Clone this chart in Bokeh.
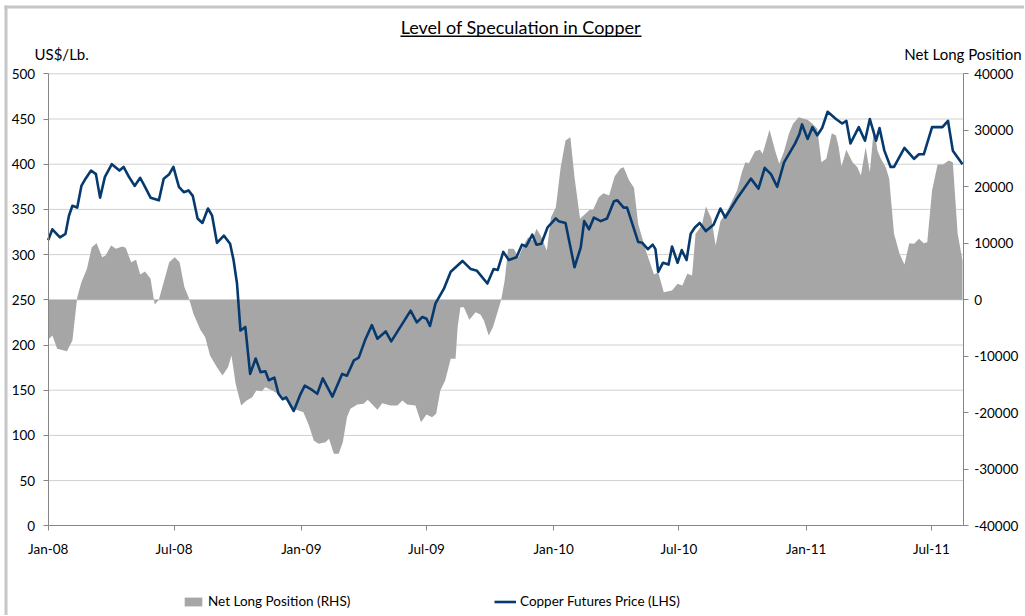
import pandas as pd
from bokeh.plotting import figure
from bokeh.models import (Range1d, LinearAxis, FixedTicker, DatetimeTickFormatter,
                          Legend, LegendItem, NumeralTickFormatter, Label, Arrow)
from bokeh.embed import file_html
from bokeh.resources import INLINE

# ---------------- data ----------------
price_dates = [
    "2008-01-01", "2008-01-07", "2008-01-18", "2008-01-26", "2008-01-31", "2008-02-05", "2008-02-12",
    "2008-02-18", "2008-02-24", "2008-03-03", "2008-03-10", "2008-03-16", "2008-03-23", "2008-04-02",
    "2008-04-13", "2008-04-19", "2008-04-26", "2008-05-05", "2008-05-13", "2008-05-20", "2008-05-28",
    "2008-06-09", "2008-06-16", "2008-06-24", "2008-06-30", "2008-07-08", "2008-07-15", "2008-07-22",
    "2008-07-28", "2008-08-04", "2008-08-11", "2008-08-19", "2008-08-25", "2008-09-01", "2008-09-11",
    "2008-09-20", "2008-09-25", "2008-09-30", "2008-10-05", "2008-10-12", "2008-10-19", "2008-10-27",
    "2008-11-03", "2008-11-10", "2008-11-15", "2008-11-23", "2008-11-29", "2008-12-05", "2008-12-10",
    "2008-12-21", "2008-12-31", "2009-01-06", "2009-01-17", "2009-01-24", "2009-02-01", "2009-02-15",
    "2009-03-01", "2009-03-08", "2009-03-18", "2009-03-25", "2009-04-04", "2009-04-13", "2009-04-21",
    "2009-05-03", "2009-05-11", "2009-06-08", "2009-06-17", "2009-06-25", "2009-07-01", "2009-07-06",
    "2009-07-14", "2009-07-26", "2009-08-05", "2009-08-22", "2009-09-03", "2009-09-12", "2009-09-27",
    "2009-10-06", "2009-10-12", "2009-10-20", "2009-10-28", "2009-11-08", "2009-11-16", "2009-11-22",
    "2009-12-01", "2009-12-07", "2009-12-14", "2009-12-23", "2010-01-04", "2010-01-08", "2010-01-18",
    "2010-01-31", "2010-02-09", "2010-02-14", "2010-02-21", "2010-02-28", "2010-03-10", "2010-03-19",
    "2010-03-29", "2010-04-03", "2010-04-12", "2010-04-17", "2010-05-03", "2010-05-09", "2010-05-17",
    "2010-05-24", "2010-05-28", "2010-06-01", "2010-06-08", "2010-06-16", "2010-06-21", "2010-06-29",
    "2010-07-05", "2010-07-12", "2010-07-18", "2010-07-24", "2010-07-31", "2010-08-09", "2010-08-20",
    "2010-08-30", "2010-09-06", "2010-09-23", "2010-10-13", "2010-10-24", "2010-11-02", "2010-11-11",
    "2010-11-20", "2010-11-30", "2010-12-16", "2010-12-22", "2010-12-26", "2011-01-03", "2011-01-10",
    "2011-01-17", "2011-01-24", "2011-02-01", "2011-02-13", "2011-02-22", "2011-02-28", "2011-03-06",
    "2011-03-18", "2011-03-27", "2011-04-03", "2011-04-12", "2011-04-17", "2011-04-24", "2011-05-03",
    "2011-05-08", "2011-05-23", "2011-06-06", "2011-06-13", "2011-06-20", "2011-07-02", "2011-07-17",
    "2011-07-25", "2011-08-01", "2011-08-15",
]
price_values = [
    316, 328, 319, 323, 343, 354, 352,
    376, 384, 393, 389, 363, 386, 400,
    393, 397, 387, 376, 385, 375, 363,
    360, 384, 389, 397, 375, 369, 371,
    365, 340, 335, 351, 343, 313, 321,
    312, 294, 268, 216, 220, 168, 185,
    170, 171, 161, 164, 146, 140, 142,
    127, 146, 155, 150, 146, 163, 143,
    168, 166, 183, 186, 207, 222, 207,
    215, 204, 238, 225, 231, 229, 221,
    246, 262, 281, 293, 284, 282, 268,
    284, 283, 303, 294, 297, 311, 309,
    322, 311, 312, 330, 340, 337, 335,
    286, 308, 337, 328, 341, 337, 340,
    359, 360, 352, 352, 314, 313, 306,
    311, 306, 281, 291, 289, 309, 291,
    305, 294, 323, 330, 335, 326, 333,
    351, 341, 362, 384, 373, 396, 389,
    375, 402, 423, 433, 444, 428, 441,
    432, 440, 458, 450, 445, 448, 423,
    441, 426, 450, 426, 440, 415, 397,
    397, 418, 406, 411, 411, 441, 441,
    448, 415, 400,
]

net_dates = [
    "2008-01-01", "2008-01-07", "2008-01-14", "2008-01-28", "2008-02-05", "2008-02-12", "2008-02-18",
    "2008-02-26", "2008-03-04", "2008-03-11", "2008-03-19", "2008-03-24", "2008-04-01", "2008-04-08",
    "2008-04-17", "2008-04-22", "2008-04-30", "2008-05-07", "2008-05-13", "2008-05-20", "2008-05-28",
    "2008-06-03", "2008-06-09", "2008-06-16", "2008-06-24", "2008-07-02", "2008-07-09", "2008-07-16",
    "2008-07-22", "2008-07-29", "2008-08-08", "2008-08-15", "2008-08-22", "2008-09-01", "2008-09-09",
    "2008-09-17", "2008-09-22", "2008-09-28", "2008-10-06", "2008-10-14", "2008-10-22", "2008-10-28",
    "2008-11-05", "2008-11-10", "2008-11-20", "2008-11-28", "2008-12-10", "2008-12-21", "2009-01-04",
    "2009-01-12", "2009-01-19", "2009-01-26", "2009-02-05", "2009-02-10", "2009-02-17", "2009-02-24",
    "2009-03-02", "2009-03-08", "2009-03-13", "2009-03-23", "2009-04-01", "2009-04-07", "2009-04-21",
    "2009-04-28", "2009-05-10", "2009-05-20", "2009-05-27", "2009-06-03", "2009-06-15", "2009-06-23",
    "2009-07-01", "2009-07-09", "2009-07-15", "2009-07-21", "2009-07-28", "2009-08-05", "2009-08-12",
    "2009-08-15", "2009-08-19", "2009-08-24", "2009-09-01", "2009-09-10", "2009-09-17", "2009-09-22",
    "2009-09-29", "2009-10-05", "2009-10-11", "2009-10-17", "2009-10-22", "2009-10-27", "2009-11-04",
    "2009-11-11", "2009-11-19", "2009-11-25", "2009-12-01", "2009-12-07", "2009-12-13", "2009-12-22",
    "2009-12-28", "2010-01-04", "2010-01-11", "2010-01-18", "2010-01-25", "2010-01-31", "2010-02-08",
    "2010-02-13", "2010-02-22", "2010-02-27", "2010-03-07", "2010-03-14", "2010-03-22", "2010-03-30",
    "2010-04-07", "2010-04-12", "2010-04-20", "2010-04-27", "2010-05-03", "2010-05-14", "2010-05-26",
    "2010-06-01", "2010-06-09", "2010-06-21", "2010-06-29", "2010-07-06", "2010-07-13", "2010-07-20",
    "2010-07-25", "2010-08-03", "2010-08-09", "2010-08-17", "2010-08-23", "2010-08-30", "2010-09-09",
    "2010-09-23", "2010-09-30", "2010-10-05", "2010-10-10", "2010-10-19", "2010-10-26", "2010-10-30",
    "2010-11-09", "2010-11-17", "2010-11-23", "2010-11-30", "2010-12-07", "2010-12-13", "2010-12-21",
    "2011-01-03", "2011-01-10", "2011-01-17", "2011-01-23", "2011-01-30", "2011-02-07", "2011-02-13",
    "2011-02-17", "2011-02-21", "2011-02-28", "2011-03-09", "2011-03-16", "2011-03-21", "2011-03-28",
    "2011-04-03", "2011-04-09", "2011-04-14", "2011-04-19", "2011-04-26", "2011-05-01", "2011-05-08",
    "2011-05-16", "2011-05-23", "2011-05-30", "2011-06-06", "2011-06-13", "2011-06-20", "2011-06-25",
    "2011-07-02", "2011-07-10", "2011-07-18", "2011-07-26", "2011-08-01", "2011-08-08", "2011-08-15",
]
net_values = [
    -7080, -6320, -8670, -9100, -7200, 460, 3120,
    5490, 9310, 10020, 7540, 7840, 9610, 9030,
    9430, 9200, 6660, 7080, 4480, 5010, 3720,
    -830, 0, 3120, 6660, 7540, 6660, 2230,
    460, -2480, -5310, -6620, -9860, -11930, -13400,
    -11930, -9860, -14870, -18710, -17820, -17240, -16050,
    -16180, -15470, -16050, -16640, -17800, -19290, -19890,
    -22250, -24900, -25490, -25200, -24600, -27260, -27260,
    -25200, -20780, -19290, -18530, -18410, -17700, -19470,
    -18300, -18710, -18710, -17820, -18530, -18710, -21660,
    -20300, -20780, -20180, -16050, -14280, -10440, -10440,
    -4850, -1310, -1310, -3540, -2190, -2600, -3660,
    -6320, -4850, -2480, 0, 3420, 9030, 9030,
    7540, 9790, 11080, 10500, 12570, 11380, 8730,
    14620, 16390, 23470, 28200, 28780, 21700, 14340,
    14920, 15930, 15930, 18160, 18870, 18460, 21820,
    23190, 23470, 21120, 19820, 13450, 8730, 4480,
    4890, 1350, 1650, 2830, 2530, 4600, 4300,
    11680, 13150, 16510, 14340, 9610, 13910, 15810,
    19350, 22590, 24360, 24180, 26300, 26550, 25840,
    30090, 26430, 24070, 26300, 29380, 31150, 32320,
    31860, 31150, 30270, 24360, 24960, 29490, 29080,
    27010, 23590, 26550, 24360, 23470, 22000, 27010,
    22590, 30550, 26430, 24960, 23470, 21420, 11680,
    8140, 6250, 10020, 9910, 10800, 10020, 10200,
    19350, 23950, 23950, 24650, 24360, 11680, 6960,
]

x_tick_dates = ["2008-01-01", "2008-07-01", "2009-01-01", "2009-07-01",
                "2010-01-01", "2010-07-01", "2011-01-01", "2011-07-01"]
price_ticks = [0, 50, 100, 150, 200, 250, 300, 350, 400, 450, 500]
net_ticks = [-40000, -30000, -20000, -10000, 0, 10000, 20000, 30000, 40000]
x_first, x_last = "2008-01-01", "2011-08-16"

title_text = "Level of Speculation in Copper"
left_title = "US$/Lb."
right_title = "Net Long Position"
series_names = ["Net Long Position (RHS)", "Copper Futures Price (LHS)"]

# ---------------- layout (canvas pixels) & styling ----------------
FONT = "Lato"
AXIS_GRAY = "#868686"
GRID = "#d0d0d0"
AREA = "#a6a6a6"
BLUE = "#063a6e"
TXT = "#000000"
FRAME_GRAY = "#c6c6c6"
W, H = 1024, 615
PL, PR = 47.7, 962.7     # plot-area left / right
PT, PB = 73.3, 525.3     # plot-area top / bottom (from top)

ms0 = pd.Timestamp(x_first).value / 1e6
ms1 = pd.Timestamp(x_last).value / 1e6
kx = (ms1 - ms0) / (PR - PL)
p_lo, p_hi = price_ticks[0], price_ticks[-1]
ky = (p_hi - p_lo) / (PB - PT)
n_lo, n_hi = net_ticks[0], net_ticks[-1]
kn = (n_hi - n_lo) / (PB - PT)
X_MIN, X_MAX = ms0 - PL * kx, ms1 + (W - PR) * kx
Y_MIN, Y_MAX = p_lo - (H - PB) * ky, p_hi + PT * ky


def px_x(px):
    return X_MIN + px * kx


def px_y(py):
    return Y_MAX - py * ky


p = figure(width=W, height=H, x_axis_type="datetime",
           x_range=Range1d(X_MIN, X_MAX), y_range=Range1d(Y_MIN, Y_MAX),
           output_backend="svg", toolbar_location=None,
           min_border_left=0, min_border_right=0, min_border_top=0, min_border_bottom=0)
p.outline_line_color = None
p.background_fill_color = "white"
p.border_fill_color = "white"
p.extra_y_ranges = {"net": Range1d(n_lo - (H - PB) * kn, n_hi + PT * kn)}
p.grid.visible = False

# outer chart border (left and top edges of the chart box)
p.segment(x0=[px_x(5.5)], y0=[px_y(H + 2)], x1=[px_x(5.5)], y1=[px_y(5)],
          line_color=FRAME_GRAY, line_width=3)
p.segment(x0=[px_x(4)], y0=[px_y(6.5)], x1=[px_x(W + 2)], y1=[px_y(6.5)],
          line_color=FRAME_GRAY, line_width=3)

# horizontal gridlines
grid_vals = price_ticks[1:]
p.segment(x0=[ms0] * len(grid_vals), y0=grid_vals, x1=[ms1] * len(grid_vals), y1=grid_vals,
          line_color=GRID, line_width=1)

pd_price = pd.to_datetime(price_dates)
pd_net = pd.to_datetime(net_dates)
area_r = p.varea(x=pd_net, y1=0, y2=net_values, y_range_name="net",
                 fill_color=AREA, fill_alpha=1.0)
line_r = p.line(pd_price, price_values, line_color=BLUE, line_width=2.6, line_join="round")


def style_axis(ax):
    ax.axis_line_color = AXIS_GRAY
    ax.major_tick_line_color = AXIS_GRAY
    ax.minor_tick_line_color = None
    ax.major_tick_in = 0
    ax.major_tick_out = 5
    ax.major_label_text_font = FONT
    ax.major_label_text_font_size = "13.5px"
    ax.major_label_text_color = TXT


xax = p.xaxis[0]
xax.ticker = FixedTicker(ticks=[pd.Timestamp(d).value / 1e6 for d in x_tick_dates])
fmt = "%b-%y"
xax.formatter = DatetimeTickFormatter(microseconds=fmt, milliseconds=fmt, seconds=fmt,
                                      minsec=fmt, minutes=fmt, hourmin=fmt, hours=fmt,
                                      days=fmt, months=fmt, years=fmt)
xax.fixed_location = p_lo
xax.bounds = (ms0, ms1)
style_axis(xax)
xax.major_label_standoff = 10

yax = p.yaxis[0]
yax.ticker = FixedTicker(ticks=price_ticks)
yax.fixed_location = ms0
yax.bounds = (p_lo, p_hi)
style_axis(yax)
yax.major_label_standoff = 8

rax = LinearAxis(y_range_name="net", ticker=FixedTicker(ticks=net_ticks),
                 formatter=NumeralTickFormatter(format="0"),
                 fixed_location=ms1, bounds=(n_lo, n_hi))
style_axis(rax)
rax.major_label_standoff = 6
p.add_layout(rax, "right")

# texts (screen units measured from the canvas bottom-left)
p.add_layout(Label(x=520.3, y=H - 26.6, x_units="screen", y_units="screen", text=title_text,
                   text_align="center", text_baseline="alphabetic",
                   text_font=FONT, text_font_size="18px", text_color=TXT))
p.add_layout(Arrow(end=None, x_start=400, y_start=H - 35.8, x_end=641, y_end=H - 35.8,
                   start_units="screen", end_units="screen",
                   line_color=TXT, line_width=1.6))
p.add_layout(Label(x=34, y=H - 53.1, x_units="screen", y_units="screen", text=left_title,
                   text_align="left", text_baseline="alphabetic",
                   text_font=FONT, text_font_size="15px", text_color=TXT))
p.add_layout(Label(x=1021, y=H - 53.1, x_units="screen", y_units="screen", text=right_title,
                   text_align="right", text_baseline="alphabetic",
                   text_font=FONT, text_font_size="15px", text_color=TXT))


def make_legend(name, rend, loc):
    lg = Legend(items=[LegendItem(label=name, renderers=[rend])], location=loc,
                orientation="horizontal", padding=0, margin=0, spacing=0,
                glyph_width=22, glyph_height=11, label_standoff=4, label_height=12,
                border_line_color=None, background_fill_alpha=0,
                label_text_font=FONT, label_text_font_size="13.5px", label_text_color=TXT)
    p.add_layout(lg)


make_legend(series_names[0], area_r, (182, H - 609))
make_legend(series_names[1], line_r, (494, H - 609))

open("out.html", "w").write(file_html(p, INLINE))
